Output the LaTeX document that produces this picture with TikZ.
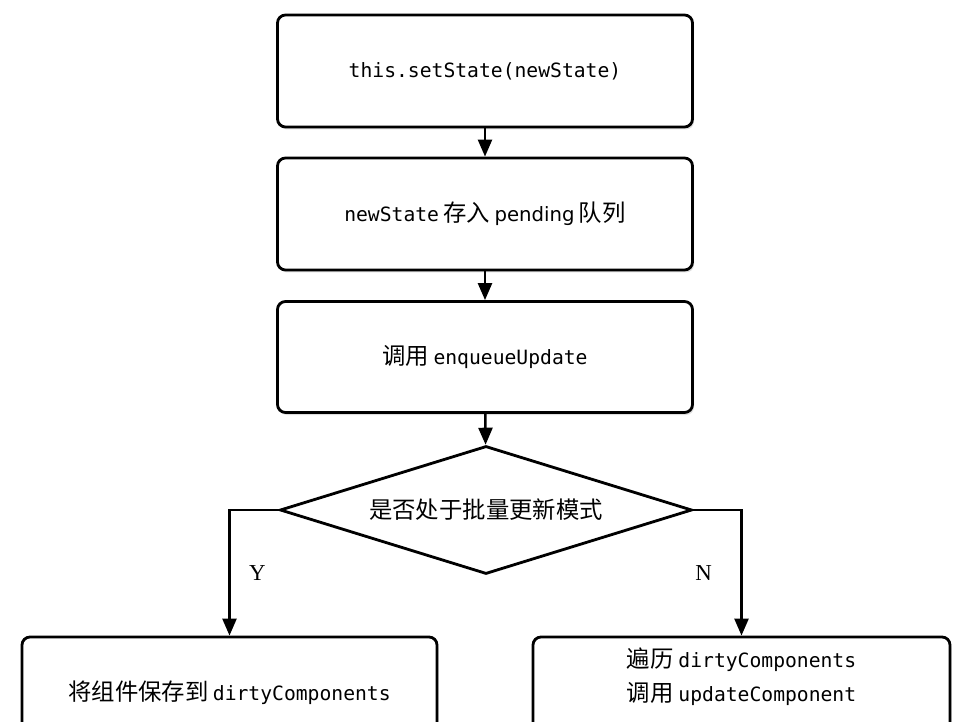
\documentclass[tikz,border=0pt]{standalone}
\usepackage{fontspec}
\setmainfont{Liberation Serif}
\newfontfamily\cjk{Noto Sans CJK SC}
\newfontfamily\codefont{DejaVu Sans Mono}
\newfontfamily\plainsans{DejaVu Sans}
\usetikzlibrary{arrows.meta, positioning, shapes.geometric, shadows}

\newcommand{\zh}[1]{{\cjk\fontsize{13.3}{15}\selectfont #1}}
\newcommand{\code}[1]{{\codefont\fontsize{11.2}{15}\selectfont #1}}

\tikzset{
  stepbox/.style={draw, line width=1.6pt, rounded corners=0.16cm, fill=white,
    minimum width=8.3cm, minimum height=2.24cm,
    drop shadow={opacity=0.25, shadow xshift=0.03cm, shadow yshift=-0.05cm}},
  decision/.style={diamond, draw, line width=1.6pt, fill=white, aspect=3.22,
    minimum width=8.24cm, minimum height=2.56cm, inner sep=0pt},
  flow/.style={line width=1.4pt, -{Triangle[length=0.34cm, width=0.28cm]}},
  branch/.style={font=\fontsize{13}{15}\selectfont},
}

\begin{document}
\begin{tikzpicture}
  \useasboundingbox (0,0) rectangle (19.34,-14.44);
  \clip (0,0) rectangle (19.34,-14.44);
  % main column
  \node[stepbox] (set) at (9.70,-1.42) {\code{this.setState(newState)}};
  \node[stepbox] (pend) at (9.70,-4.28) {\code{newState} \zh{存入} {\plainsans\fontsize{11.2}{15}\selectfont pending} \zh{队列}};
  \node[stepbox, minimum height=2.22cm] (enq) at (9.70,-7.14) {\zh{调用} \code{enqueueUpdate}};
  \node[decision] (batch) at (9.72,-10.20) {\zh{是否处于批量更新模式}};
  % two branches
  \node[stepbox] (dirty) at (4.59,-13.86) {\zh{将组件保存到} \code{dirtyComponents}};
  \node[stepbox, minimum width=8.34cm, minimum height=2.6cm] (loop) at (14.83,-14.04) {};
  \node[inner sep=0pt, below=0.24cm of loop.north, align=center,
    font=\fontsize{11.2}{19.3}\selectfont] (looptxt)
    {\zh{遍历} \code{dirtyComponents}\\\zh{调用} \code{updateComponent}};

  \draw[flow] (set) -- (pend);
  \draw[flow] (pend) -- (enq);
  \draw[flow] (enq) -- (batch);
  \draw[flow] (batch.west) -| (dirty.north) node[branch, pos=0.75, right=0.25cm]{Y};
  \draw[flow] (batch.east) -| (loop.north) node[branch, pos=0.75, left=0.45cm]{N};
\end{tikzpicture}
\end{document}
